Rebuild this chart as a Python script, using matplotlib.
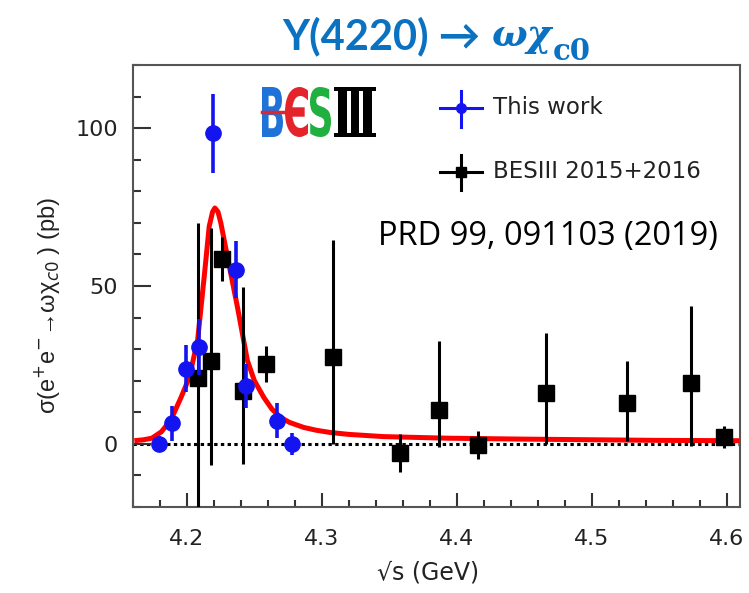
import matplotlib
matplotlib.use('Agg')
import matplotlib.pyplot as plt
from matplotlib.textpath import TextPath
from matplotlib.patches import PathPatch
from matplotlib.font_manager import FontProperties
from matplotlib.transforms import Affine2D

# This work (blue circles)
this_x = [4.179, 4.189, 4.199, 4.209, 4.2194, 4.2367, 4.244, 4.267, 4.278]
this_y = [0.0, 6.5, 23.8, 30.7, 98.4, 55.1, 18.2, 7.3, 0.0]
this_err = [2.5, 5.5, 7.5, 9.0, 12.5, 9.0, 7.0, 5.5, 3.5]

# BESIII 2015+2016 (black squares)
bes_x = [4.208, 4.2177, 4.2263, 4.2418, 4.2588, 4.308, 4.358, 4.387, 4.4157, 4.4662, 4.5264, 4.5739, 4.5985]
bes_y = [21.0, 26.4, 58.5, 16.7, 25.2, 27.5, -3.0, 10.7, -0.3, 16.0, 12.8, 19.2, 2.2]
bes_lo = [49.0, 33.0, 7.0, 23.0, 5.7, 27.5, 6.0, 11.7, 4.5, 16.0, 12.0, 19.8, 3.5]
bes_hi = [49.0, 42.0, 7.0, 33.0, 5.7, 37.0, 6.0, 22.0, 4.5, 19.0, 13.6, 24.4, 3.5]

# fit curve
fit_x = [4.161, 4.168, 4.174, 4.181, 4.188, 4.1956, 4.2017, 4.2079, 4.2128, 4.2165, 4.219,
         4.2207, 4.223, 4.2251, 4.23, 4.2374, 4.2448, 4.25, 4.257, 4.263, 4.2694, 4.276,
         4.2866, 4.296, 4.3063, 4.32, 4.3456, 4.3924, 4.45, 4.5, 4.55, 4.61]
fit_y = [1.0, 1.3, 1.8, 3.8, 7.5, 14.7, 21.0, 32.8, 53.0, 68.9, 73.5,
         74.7, 73.5, 70.0, 59.3, 43.4, 26.4, 20.0, 14.7, 11.0, 8.4, 6.8,
         5.2, 4.3, 3.6, 3.0, 2.3, 1.8, 1.5, 1.3, 1.1, 1.0]

xticks = [4.2, 4.3, 4.4, 4.5, 4.6]
yticks = [0, 50, 100]

W, H = 749, 593
fig = plt.figure(figsize=(W / 100, H / 100), dpi=100)
ax = fig.add_axes([133 / W, 1 - 507 / H, 607 / W, 442 / H])

ax.axhline(0, color='black', ls=(0, (1.1, 1.1)), lw=2.2, zorder=1)
ax.plot(fit_x, fit_y, color='red', lw=3.6, zorder=2, solid_capstyle='butt')

ax.errorbar(bes_x, bes_y, yerr=[bes_lo, bes_hi], fmt='s', color='black',
            ms=11, elinewidth=2.2, capsize=0, zorder=3)
ax.errorbar(this_x, this_y, yerr=this_err, fmt='o', color='#1414f0',
            ms=11, elinewidth=2.6, capsize=0, zorder=4)

ax.set_xlim(4.16, 4.61)
ax.set_ylim(-20, 120)
ax.set_xticks(xticks)
ax.set_xticklabels(['4.2', '4.3', '4.4', '4.5', '4.6'])
ax.set_yticks(yticks)
ax.set_xticks([4.16 + 0.02 * i for i in range(23)], minor=True)
ax.set_yticks(list(range(-20, 121, 10)), minor=True)
ax.tick_params(which='both', direction='in', top=False, right=False, color='#333333', width=1.5)
ax.tick_params(axis='x', which='major', length=10, labelsize=16, pad=16)
ax.tick_params(axis='y', which='major', length=13, labelsize=16, pad=11)
ax.tick_params(axis='x', which='minor', length=5)
ax.tick_params(axis='y', which='minor', length=6)
for lab in ax.get_xticklabels() + ax.get_yticklabels():
    lab.set_family('DejaVu Sans')
    lab.set_color('#222222')
for sp in ax.spines.values():
    sp.set_color('#555555')
    sp.set_linewidth(1.5)

ax.set_xlabel('√s (GeV)', fontsize=17, family='DejaVu Sans', color='#222222')
ax.xaxis.set_label_coords(0.486, -0.122)
ax.set_ylabel(r'σ(e$^{+}$e$^{-}$→ωχ$_{c0}$ ) (pb)', fontsize=17, family='Liberation Sans',
              color='#222222', va='center')
ax.yaxis.set_label_coords(-0.142, 0.455)

# legend drawn by hand (ROOT style: line + vertical error bar + marker)
leg_rows = [('This work', '#1414f0', 'o', 108, 91, 127),
            ('BESIII 2015+2016', 'black', 's', 172, 155, 190)]
for label, col, mk, yc, ytop, ybot in leg_rows:
    ya = (507 - yc) / 442
    ax.plot([(440 - 133) / 607, (482 - 133) / 607], [ya, ya], color=col, lw=2.2,
            transform=ax.transAxes, clip_on=False)
    ax.plot([(461 - 133) / 607] * 2, [(507 - ytop) / 442, (507 - ybot) / 442], color=col,
            lw=2.2, transform=ax.transAxes, clip_on=False)
    ax.plot([(461 - 133) / 607], [ya], marker=mk, ms=7, color=col, transform=ax.transAxes,
            clip_on=False)
    ax.text((493 - 133) / 607, ya, label, transform=ax.transAxes, fontsize=16.5,
            family='DejaVu Sans', color='#222222', va='center')

ax.text((378 - 133) / 607, (507 - 237) / 442, 'PRD 99, 091103 (2019)', transform=ax.transAxes,
        fontsize=23.5, family='Open Sans', color='black', va='center')


# BESIII logo: glyphs squeezed into boxes (pixel coords from top-left)
def boxed_glyph(s, family, weight, color, x0, x1, y0, y1):
    tp = TextPath((0, 0), s, size=100, prop=FontProperties(family=family, weight=weight))
    ext = tp.get_extents()
    tr = (Affine2D().translate(-ext.x0, -ext.y0)
          .scale((x1 - x0) / ext.width, (y1 - y0) / ext.height)
          .translate(x0, H - y1))
    fig.add_artist(PathPatch(tp, transform=tr, color=color, lw=0))


boxed_glyph('B', 'DejaVu Sans', 'bold', '#1e72d8', 262, 283, 87, 137)
boxed_glyph('Є', 'DejaVu Sans', 'bold', '#e3242b', 285, 308, 87, 137)
boxed_glyph('S', 'DejaVu Sans', 'bold', '#20b040', 310, 331, 87, 137)
boxed_glyph('Ⅲ', 'DejaVu Serif', 'bold', 'black', 334, 376, 87, 137)
fig.add_artist(plt.Line2D([262 / W, 300 / W], [1 - 112 / H, 1 - 112 / H], color='#e3242b', lw=2.5))

# title, built from pieces placed one after another
tcol = '#0a72c0'
pieces = [('Y(4220) →', 30, ['Lato', 'DejaVu Sans'], 'normal', 36, 0),
          ('ωχ', 27, ['DejaVu Serif'], 'italic', 36, 12),
          ('c0', 21, ['DejaVu Serif'], 'normal', 51, 0)]
xpix = 282
fig.canvas.draw()
rend = fig.canvas.get_renderer()
for s, fs, fam, style, ypix, gap in pieces:
    t = fig.text((xpix + gap) / W, 1 - ypix / H, s, fontsize=fs, fontweight='bold', color=tcol,
                 family=fam, style=style, va='center')
    xpix = t.get_window_extent(rend).x1

fig.savefig('out.png', dpi=100)
